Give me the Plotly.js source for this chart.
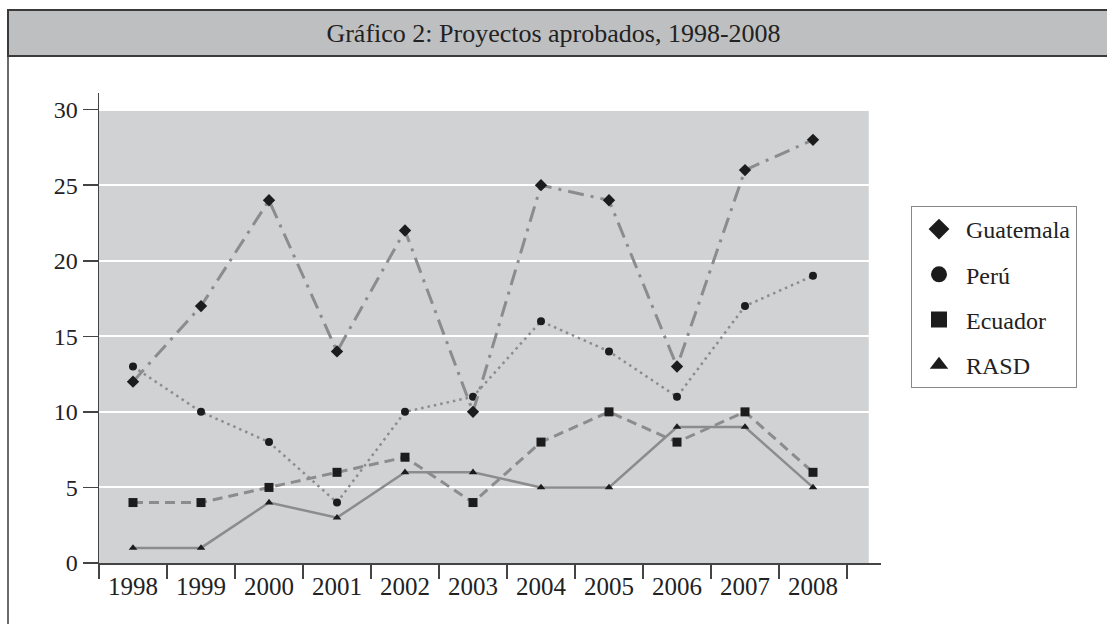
<!DOCTYPE html>
<html>
<head>
<meta charset="utf-8">
<script src="https://cdn.plot.ly/plotly-3.0.1.min.js"></script>
<style>html,body{margin:0;padding:0;background:#fff;}#chart{width:1107px;height:624px;}</style>
</head>
<body>
<div id="chart"></div>
<script>
// ---- data ----
const years = ["1998","1999","2000","2001","2002","2003","2004","2005","2006","2007","2008"];
const guatemala = [12, 17, 24, 14, 22, 10, 25, 24, 13, 26, 28];
const peru      = [13, 10, 8, 4, 10, 11, 16, 14, 11, 17, 19];
const ecuador   = [4, 4, 5, 6, 7, 4, 8, 10, 8, 10, 6];
const rasd      = [1, 1, 4, 3, 6, 6, 5, 5, 9, 9, 5];
const seriesNames = ["Guatemala", "Perú", "Ecuador", "RASD"];
const yTicks = [0, 5, 10, 15, 20, 25, 30];
const titleText = "Gráfico 2: Proyectos aprobados, 1998-2008";

// ---- layout geometry (pixels) ----
const W = 1107, H = 624;
const L = 99, R = 881, T = 93, B = 563;
const px = v => (v - L) / (R - L);
const py = v => (B - v) / (B - T);

const lineGray = "#8c8c8c";
const markBlack = "#1c1c1c";
const font = "Liberation Serif, Times New Roman, serif";

function series(y, name, dash, width, symbol, size) {
  return {
    x: years, y: y, name: name, type: "scatter", mode: "lines+markers",
    line: {color: lineGray, width: width, dash: dash},
    marker: {symbol: symbol, size: size, color: markBlack},
    showlegend: false, hoverinfo: "skip"
  };
}
function legendEntry(name, symbol, size, g) {
  return {
    x: [null], y: [null], name: name, type: "scatter", mode: "markers",
    marker: {symbol: symbol, size: size, color: markBlack},
    legendgroup: g, showlegend: true
  };
}

const traces = [
  series(rasd, seriesNames[3], "solid", 2.5, "triangle-up", 7.5),
  series(ecuador, seriesNames[2], "10px,6px", 3, "square", 9),
  series(peru, seriesNames[1], "2.5px,4px", 2.5, "circle", 8),
  series(guatemala, seriesNames[0], "16px,7px,3px,7px", 3, "diamond", 9.5),
  legendEntry(seriesNames[0], "diamond", 20, "g1"),
  legendEntry(seriesNames[1], "circle", 20, "g2"),
  legendEntry(seriesNames[2], "square", 20, "g3"),
  legendEntry(seriesNames[3], "triangle-up", 20, "g4")
];

const frameColor = "#3a3a3a";
const layout = {
  width: W, height: H,
  margin: {l: L, r: W - R, t: T, b: H - B, pad: 0},
  paper_bgcolor: "#ffffff",
  plot_bgcolor: "#ffffff",
  font: {family: font, size: 24, color: "#222"},
  title: {text: titleText, font: {family: font, size: 26, color: "#222"},
          x: 0.5, xref: "container", y: 1 - 33 / H, yref: "container", yanchor: "middle"},
  xaxis: {
    type: "category", range: [-0.5, 11.0],
    tickson: "boundaries", ticks: "outside", ticklen: 14, tickwidth: 1.5, tickcolor: "#444",
    showline: true, linecolor: "#444", linewidth: 1.5,
    showgrid: false, zeroline: false,
    tickfont: {family: font, size: 25, color: "#222"},
    fixedrange: true
  },
  yaxis: {
    range: [0, 31.1], tickvals: yTicks, ticktext: yTicks.map(String),
    ticks: "outside", ticklen: 15, tickwidth: 1.5, tickcolor: "#444",
    showline: true, linecolor: "#444", linewidth: 1.5,
    showgrid: true, gridcolor: "#ffffff", gridwidth: 2,
    zeroline: false,
    tickfont: {family: font, size: 24, color: "#222"},
    fixedrange: true
  },
  showlegend: true,
  legend: {
    x: px(911), y: py(206), xanchor: "left", yanchor: "top",
    xref: "paper", yref: "paper",
    bgcolor: "#ffffff", bordercolor: "#888", borderwidth: 1,
    font: {family: font, size: 24, color: "#222"},
    traceorder: "grouped", tracegroupgap: 11, itemwidth: 44
  },
  shapes: [
    // gray plot background
    {type: "rect", xref: "x", yref: "y", x0: -0.5, x1: 10.82, y0: 0, y1: 30,
     fillcolor: "#d1d2d4", line: {width: 0}, layer: "below"},
    // title bar
    {type: "rect", xref: "paper", yref: "paper", x0: px(8), x1: px(1112), y0: py(10), y1: py(56),
     fillcolor: "#bebfc1", line: {color: frameColor, width: 2}, layer: "below"},
    // left frame line
    {type: "line", xref: "paper", yref: "paper", x0: px(8), x1: px(8), y0: py(56), y1: py(630),
     line: {color: frameColor, width: 1.5}}
  ]
};

Plotly.newPlot("chart", traces, layout, {displayModeBar: false, staticPlot: true});
</script>
</body>
</html>
